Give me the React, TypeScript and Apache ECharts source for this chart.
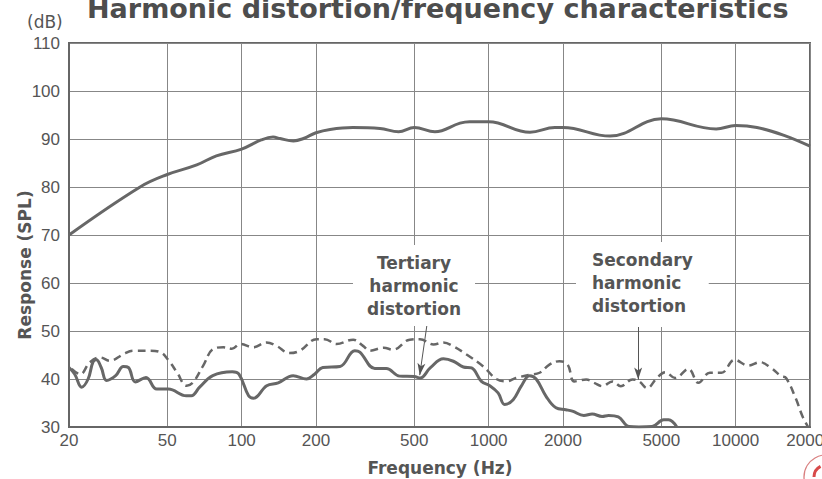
import React, { useEffect, useRef } from "react";
import * as echarts from "echarts";

// ---- axis definitions ----
const xTicks = [20, 50, 100, 200, 500, 1000, 2000, 5000, 10000, 20000];
const yMin = 30;
const yMax = 110;
const yStep = 10;

// ---- Response (SPL) ----
const responseFreq = [20, 38.8, 50, 65.8, 79, 100, 120, 134, 143, 162, 178, 200, 228, 282, 363, 432, 500, 606, 766, 838, 1000, 1470, 1854, 2000, 3100, 5000, 8340, 10000, 12200, 15600, 20000];
const responseDb = [70, 80, 82.6, 84.6, 86.5, 87.9, 89.8, 90.4, 90.1, 89.6, 90.1, 91.3, 92, 92.4, 92.2, 91.5, 92.4, 91.5, 93.3, 93.6, 93.6, 91.4, 92.4, 92.4, 90.6, 94.2, 92.1, 92.8, 92.4, 90.8, 88.5];

// ---- Tertiary harmonic distortion (solid) ----
const tertiaryFreq = [20, 21.1, 22.5, 23.9, 25.0, 25.8, 27.0, 28.4, 30.9, 33.2, 34.8, 37.1, 41.0, 45.3, 50.5, 59.7, 62.6, 67.6, 76.4, 91.6, 97.5, 106.7, 111.7, 126.3, 140.6, 161.6, 183.1, 197.3, 213, 250, 287, 301, 346, 385, 436, 500, 528, 580, 656, 720, 790, 853, 935, 1011, 1092, 1161, 1257, 1355, 1465, 1557, 1708, 1873, 2053, 2183, 2429, 2625, 2880, 3060, 3350, 3700, 4060, 4590, 5110, 5350, 5780];
const tertiaryDb = [42.4, 41, 38.3, 40, 43.5, 44, 42.4, 39.7, 40.7, 42.6, 42.4, 39.4, 40.3, 37.9, 37.9, 36.5, 36.5, 38.3, 40.7, 41.5, 41, 36.5, 36, 38.6, 39.2, 40.7, 40, 41, 42.4, 42.6, 45.9, 45.6, 42.2, 42.2, 40.6, 40.5, 40.2, 42.3, 44.2, 43.7, 42.5, 42.3, 39.5, 38.6, 37.1, 34.7, 35.7, 38.5, 40.7, 40, 36.4, 34, 33.6, 33.3, 32.4, 32.7, 32.2, 32.4, 32.1, 30.1, 30, 30.1, 31.5, 31.5, 30];

// ---- Secondary harmonic distortion (dashed) ----
const secondaryFreq = [20.5, 22.2, 24.3, 26.7, 29.3, 33.3, 36.4, 42.5, 46.8, 50.7, 54.7, 59.9, 63.6, 69.9, 76.9, 84.3, 91.3, 98.7, 111.5, 126, 138.5, 156, 172, 201, 217, 242, 283, 310, 330, 376, 410, 479, 527, 598, 656, 720, 814, 951, 1075, 1179, 1290, 1464, 1608, 1762, 1935, 2088, 2223, 2483, 2675, 2887, 3170, 3430, 3820, 4070, 4380, 4800, 5190, 5690, 6440, 7070, 7860, 8760, 9900, 11250, 12530, 13930, 15270, 16000, 17500, 18660, 19600];
const secondaryDb = [42.1, 41, 43.5, 44.5, 43.8, 45.2, 45.9, 45.9, 45.6, 43.8, 41.4, 38.6, 39.3, 42.8, 46.3, 46.6, 46.3, 47.3, 46.6, 47.6, 46.9, 45.4, 45.9, 48.3, 48.3, 47.3, 48.2, 46.9, 45.9, 46.5, 46.1, 48.2, 48.3, 47.2, 47.6, 46.8, 45.1, 42.6, 40, 39.5, 40.2, 40.9, 41.3, 43, 43.7, 43, 39.5, 39.9, 39.2, 38.5, 39.5, 38.5, 39.9, 39.5, 38.1, 40.2, 41.4, 40.2, 42.1, 39.2, 41.3, 41.3, 44, 42.8, 43.5, 42.3, 40.6, 40.2, 36, 32.2, 30.1];

// ---- annotation arrows (data coordinates: [Hz, dB]) ----
const tertiaryArrowFrom = [570, 53.3];
const tertiaryArrowTo = [526, 40.8];
const secondaryArrowFrom = [4030, 51.3];
const secondaryArrowTo = [4030, 39.9];

const zip = (xs: number[], ys: number[]) => xs.map((x, i) => [x, ys[i]]);

const ink = "#555";
const lineInk = "#676767";
const gridInk = "#878787";
const labelFont = "'Liberation Sans', Arial, sans-serif";
const boldFont = "'DejaVu Sans', sans-serif";

const option: any = {
  animation: false,
  backgroundColor: "#fff",
  grid: {
    left: 69,
    right: 12,
    top: 43,
    bottom: 52,
    show: true,
    borderColor: "#666",
    borderWidth: 2,
    containLabel: false,
    outerBoundsMode: "none",
  },
  xAxis: {
    type: "log",
    logBase: 10,
    min: 20,
    max: 20000,
    axisLine: { show: true, lineStyle: { color: "#666", width: 2 } },
    axisTick: { show: false, customValues: xTicks },
    minorTick: { show: false },
    minorSplitLine: { show: false },
    axisLabel: {
      customValues: xTicks,
      color: ink,
      fontFamily: labelFont,
      fontSize: 17,
      margin: 5,
      hideOverlap: false,
      formatter: (v: number) => String(Math.round(v)),
    },
    splitLine: { show: true, lineStyle: { color: gridInk, width: 1 } },
  },
  yAxis: {
    type: "value",
    min: yMin,
    max: yMax,
    interval: yStep,
    axisLine: { show: true, lineStyle: { color: "#666", width: 2 } },
    axisTick: { show: false },
    axisLabel: { color: ink, fontFamily: labelFont, fontSize: 17, margin: 9 },
    splitLine: { show: true, lineStyle: { color: gridInk, width: 1 } },
  },
  series: [
    {
      name: "Response",
      type: "line",
      data: zip(responseFreq, responseDb),
      showSymbol: false,
      smooth: 0.4,
      lineStyle: { color: lineInk, width: 3 },
      z: 5,
    },
    {
      name: "Tertiary harmonic distortion",
      type: "line",
      data: zip(tertiaryFreq, tertiaryDb),
      showSymbol: false,
      smooth: 0.4,
      lineStyle: { color: lineInk, width: 3 },
      z: 5,
      markLine: {
        silent: true,
        symbol: ["none", "arrow"],
        symbolSize: [6, 12],
        label: { show: false },
        lineStyle: { color: "#555", width: 1, type: "solid" },
        data: [[{ coord: tertiaryArrowFrom }, { coord: tertiaryArrowTo }]],
      },
    },
    {
      name: "Secondary harmonic distortion",
      type: "line",
      data: zip(secondaryFreq, secondaryDb),
      showSymbol: false,
      smooth: 0.4,
      lineStyle: { color: lineInk, width: 2.5, type: [8, 5] },
      z: 5,
      markLine: {
        silent: true,
        symbol: ["none", "arrow"],
        symbolSize: [6, 12],
        label: { show: false },
        lineStyle: { color: "#555", width: 1, type: "solid" },
        data: [[{ coord: secondaryArrowFrom }, { coord: secondaryArrowTo }]],
      },
    },
  ],
  graphic: [
    {
      type: "text",
      x: 87,
      y: -5,
      z: 20,
      style: {
        text: "Harmonic distortion/frequency characteristics",
        fill: "#4d4d4d",
        font: `bold 27px ${boldFont}`,
        verticalAlign: "top",
      },
    },
    {
      type: "text",
      x: 27,
      y: 22,
      z: 20,
      style: {
        text: "(dB)",
        fill: ink,
        font: `17px ${boldFont}`,
        verticalAlign: "middle",
      },
    },
    {
      type: "text",
      x: 25,
      y: 265,
      rotation: Math.PI / 2,
      z: 20,
      style: {
        text: "Response (SPL)",
        fill: ink,
        font: `bold 17px ${boldFont}`,
        align: "center",
        verticalAlign: "middle",
      },
    },
    {
      type: "text",
      x: 440,
      y: 468,
      z: 20,
      style: {
        text: "Frequency (Hz)",
        fill: ink,
        font: `bold 17px ${boldFont}`,
        align: "center",
        verticalAlign: "middle",
      },
    },
    {
      type: "text",
      x: 414,
      y: 245,
      z: 20,
      style: {
        text: "Tertiary\nharmonic\ndistortion",
        fill: ink,
        font: `bold 17px ${boldFont}`,
        lineHeight: 23,
        align: "center",
        verticalAlign: "top",
        backgroundColor: "#fff",
        padding: [6, 14, 6, 14],
      },
    },
    {
      type: "text",
      x: 576,
      y: 242,
      z: 20,
      style: {
        text: "Secondary\nharmonic\ndistortion",
        fill: ink,
        font: `bold 17px ${boldFont}`,
        lineHeight: 23,
        align: "left",
        verticalAlign: "top",
        backgroundColor: "#fff",
        padding: [6, 16, 10, 16],
      },
    },
    {
      type: "circle",
      shape: { cx: 826, cy: 477, r: 22 },
      z: 20,
      style: { fill: "none", stroke: "#d98080", lineWidth: 1.3 },
    },
    {
      type: "arc",
      shape: { cx: 826, cy: 477, r: 12, startAngle: Math.PI * 1.0, endAngle: Math.PI * 1.35 },
      z: 20,
      style: { fill: "none", stroke: "#d84a4a", lineWidth: 3 },
    },
  ],
};

export default function App() {
  const ref = useRef<HTMLDivElement>(null);
  useEffect(() => {
    const chart = echarts.init(ref.current!, null, { renderer: "svg" });
    chart.setOption(option);
    return () => chart.dispose();
  }, []);
  return (
    <div
      ref={ref}
      style={{ width: 822, height: 479, position: "absolute", left: 0, top: 0 }}
    />
  );
}
